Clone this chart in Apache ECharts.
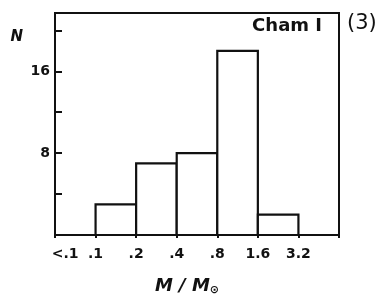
<!DOCTYPE html>
<html>
<head>
<meta charset="utf-8">
<script src="https://cdn.jsdelivr.net/npm/echarts@6/dist/echarts.min.js"></script>
<style>html,body{margin:0;padding:0;background:#fff;}#c{width:386px;height:301px;}</style>
</head>
<body>
<div id="c"></div>
<script>
// bin edges on a log2 scale: position 0 = 0.1, 1 = 0.2, ... 5 = 3.2
const binStart = [0, 1, 2, 3, 4];
const binEnd = [1, 2, 3, 4, 5];
const counts = [3, 7, 8, 18, 2];
const tickPositions = [0, 1, 2, 3, 4, 5];
const tickLabels = ['.1', '.2', '.4', '.8', '1.6', '3.2'];
const lowLabel = '<.1';
const yLabelValues = [8, 16];
const clusterName = 'Cham I';
const panelTag = '(3)';

const FONT = 'DejaVu Sans';
const chart = echarts.init(document.getElementById('c'));
const data = binStart.map((s, i) => [s, binEnd[i], counts[i]]);

chart.setOption({
  animation: false,
  backgroundColor: '#fff',
  title: [
    { text: clusterName, right: 64, top: 17, padding: 0,
      textStyle: { fontFamily: FONT, fontWeight: 'bold', fontSize: 18, color: '#111' } },
    { text: panelTag, left: 347, top: 13, padding: 0,
      textStyle: { fontFamily: FONT, fontWeight: 'normal', fontSize: 21, color: '#111' } }
  ],
  grid: { left: 55, right: 47, top: 13, bottom: 64, show: true, borderColor: '#111', borderWidth: 2, backgroundColor: 'transparent' },
  xAxis: [
    {
      type: 'value', min: -1, max: 6, interval: 1,
      axisLine: { show: true, onZero: false, lineStyle: { color: '#111', width: 2 } },
      axisTick: { show: true, inside: false, length: 3, lineStyle: { color: '#111', width: 2 } },
      splitLine: { show: false },
      axisLabel: {
        margin: 12, fontFamily: FONT, fontWeight: 'bold', fontSize: 14, color: '#111',
        formatter: v => { const i = tickPositions.indexOf(v); return i >= 0 ? tickLabels[i] : ''; }
      },
      name: 'M / M{s|⊙}', nameLocation: 'middle', nameGap: 42,
      nameTextStyle: { fontFamily: FONT, fontWeight: 'bold', fontStyle: 'italic', fontSize: 18, color: '#111',
        padding: [0, 20, 0, 0],
        rich: { s: { fontFamily: FONT, fontWeight: 'bold', fontSize: 11, color: '#111', verticalAlign: 'bottom', padding: [8, 0, 0, 0] } } }
    },
    {
      type: 'value', min: -1, max: 6, interval: 0.25, position: 'bottom',
      axisLine: { show: false, onZero: false }, axisTick: { show: false }, splitLine: { show: false },
      axisLabel: {
        margin: 12, fontFamily: FONT, fontWeight: 'bold', fontSize: 14, color: '#111',
        formatter: v => (v === -0.75 ? lowLabel : '')
      }
    }
  ],
  yAxis: {
    type: 'value', min: 0, max: 21.7, interval: 4,
    axisLine: { show: true, onZero: false, lineStyle: { color: '#111', width: 2 } },
    axisTick: { show: true, inside: true, length: 7, lineStyle: { color: '#111', width: 2 } },
    splitLine: { show: false },
    axisLabel: {
      margin: 5, fontFamily: FONT, fontWeight: 'bold', fontSize: 14, color: '#111',
      formatter: v => (yLabelValues.indexOf(v) >= 0 ? String(v) : '')
    },
    name: 'N', nameLocation: 'end', nameGap: -24,
    nameTextStyle: { fontFamily: FONT, fontWeight: 'bold', fontStyle: 'italic', fontSize: 15, color: '#111',
      align: 'right', verticalAlign: 'middle', padding: [0, 32, 0, 0] }
  },
  series: [{
    type: 'custom',
    xAxisIndex: 0,
    data: data,
    renderItem: (params, api) => {
      const p0 = api.coord([api.value(0), 0]);
      const p1 = api.coord([api.value(1), api.value(2)]);
      return {
        type: 'rect',
        shape: { x: p0[0], y: p1[1], width: p1[0] - p0[0], height: p0[1] - p1[1] },
        style: { fill: '#fff', stroke: '#111', lineWidth: 2.2 }
      };
    }
  }]
});
</script>
</body>
</html>
